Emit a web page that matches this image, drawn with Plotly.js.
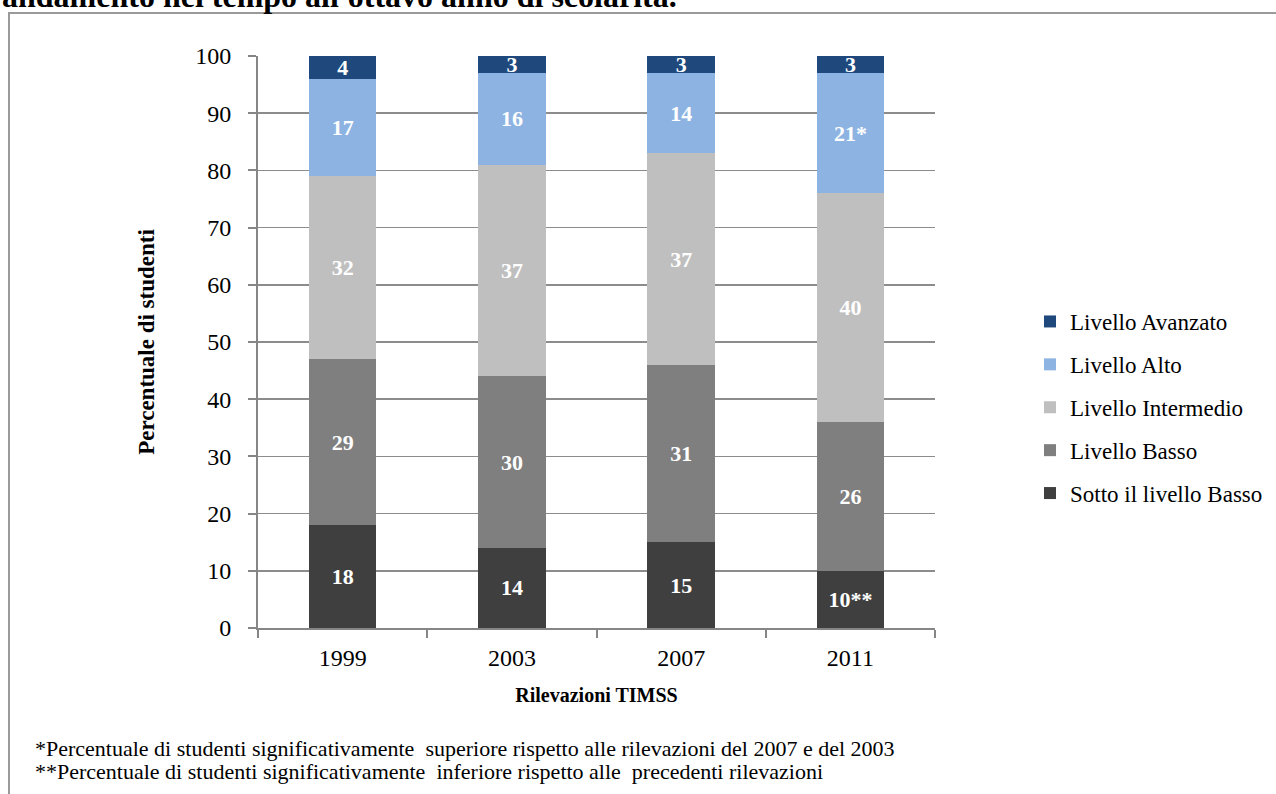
<!DOCTYPE html>
<html>
<head>
<meta charset="utf-8">
<script src="https://cdn.plot.ly/plotly-3.0.1.min.js"></script>
<style>html,body{margin:0;padding:0;background:#fff;}#chart{width:1276px;height:794px;}</style>
</head>
<body>
<div id="chart"></div>
<script>
// Data
const years = ["1999", "2003", "2007", "2011"];
const sottoBasso = [18, 14, 15, 10];
const basso = [29, 30, 31, 26];
const intermedio = [32, 37, 37, 40];
const alto = [17, 16, 14, 21];
const avanzato = [4, 3, 3, 3];
const sottoNotes = ["", "", "", "**"];
const altoNotes = ["", "", "", "*"];
const seriesNames = ["Sotto il livello Basso", "Livello Basso", "Livello Intermedio", "Livello Alto", "Livello Avanzato"];
const colors = ["#3f3f3f", "#7f7f7f", "#bfbfbf", "#8db3e2", "#1f497d"];
const titleText = "andamento nel tempo all'ottavo anno di scolarità.";
const yTitle = "Percentuale di studenti";
const xTitle = "Rilevazioni TIMSS";
const note1 = "*Percentuale di studenti significativamente  superiore rispetto alle rilevazioni del 2007 e del 2003";
const note2 = "**Percentuale di studenti significativamente  inferiore rispetto alle  precedenti rilevazioni";

const serif = "Liberation Serif, Times New Roman, serif";
const seriesVals = [sottoBasso, basso, intermedio, alto, avanzato];
const seriesNotes = [sottoNotes, null, null, altoNotes, null];

const traces = seriesVals.map((vals, i) => ({
  type: "bar",
  name: seriesNames[i],
  x: years,
  y: vals,
  text: vals.map((v, j) => String(v) + (seriesNotes[i] ? seriesNotes[i][j] : "")),
  textposition: "inside",
  insidetextanchor: "middle",
  textangle: 0,
  constraintext: "none",
  cliponaxis: false,
  textfont: {family: serif, size: 22, color: "#ffffff", weight: "bold"},
  marker: {color: colors[i], line: {width: 0}},
  legendgroup: "g" + i,
  legendrank: seriesVals.length - i,
  hoverinfo: "name+y"
}));

// pixel -> paper helpers (plot area: x 258..935, y 56..628)
const L = 258, R = 935, T = 56, B = 628, W = 1276, H = 794;
const px = X => (X - L) / (R - L);
const py = Y => (B - Y) / (B - T);

const layout = {
  width: W, height: H,
  margin: {l: L, r: W - R, t: T, b: H - B, pad: 0, autoexpand: false},
  paper_bgcolor: "#ffffff",
  plot_bgcolor: "#ffffff",
  barmode: "stack",
  bargap: 0.6,
  showlegend: true,
  legend: {
    xref: "container", yref: "container",
    x: 1030 / W, y: 1 - 300 / H, xanchor: "left", yanchor: "top",
    traceorder: "grouped", tracegroupgap: 10,
    font: {family: serif, size: 23, color: "#000"},
    bgcolor: "rgba(0,0,0,0)", borderwidth: 0
  },
  xaxis: {
    type: "category",
    showline: true, linecolor: "#868686", linewidth: 2,
    ticks: "outside", tickson: "boundaries", ticklen: 8, tickcolor: "#868686", tickwidth: 2,
    showgrid: false,
    tickfont: {family: serif, size: 24, color: "#000"},
    ticklabelstandoff: 7,
    title: {text: xTitle, font: {family: serif, size: 20, color: "#000", weight: "bold"}, standoff: 18},
    fixedrange: true
  },
  yaxis: {
    range: [0, 100], dtick: 10, tick0: 0,
    showline: true, linecolor: "#868686", linewidth: 2,
    ticks: "outside", ticklen: 8, tickcolor: "#868686", tickwidth: 2,
    showgrid: true, gridcolor: "#8c8c8c", gridwidth: 1.5,
    zeroline: false,
    tickfont: {family: serif, size: 24, color: "#000"},
    ticklabelstandoff: 12,
    title: {text: yTitle, font: {family: serif, size: 23, color: "#000", weight: "bold"}, standoff: 34},
    fixedrange: true
  },
  shapes: [
    {type: "line", xref: "paper", yref: "paper", x0: px(8), x1: px(1290), y0: py(13), y1: py(13), line: {color: "#9a9a9a", width: 2}},
    {type: "line", xref: "paper", yref: "paper", x0: px(9), x1: px(9), y0: py(13), y1: py(810), line: {color: "#9a9a9a", width: 2}}
  ],
  annotations: [
    {text: "<b>" + titleText + "</b>", xref: "paper", yref: "paper", x: px(0), y: py(16), xanchor: "left", yanchor: "bottom", showarrow: false, font: {family: serif, size: 32, color: "#000"}},
    {text: note1, xref: "paper", yref: "paper", x: px(33), y: py(748), xanchor: "left", yanchor: "middle", showarrow: false, align: "left", font: {family: serif, size: 22, color: "#000"}},
    {text: note2, xref: "paper", yref: "paper", x: px(33), y: py(771), xanchor: "left", yanchor: "middle", showarrow: false, align: "left", font: {family: serif, size: 22, color: "#000"}}
  ]
};

Plotly.newPlot("chart", traces, layout, {displayModeBar: false, staticPlot: true});
</script>
</body>
</html>
